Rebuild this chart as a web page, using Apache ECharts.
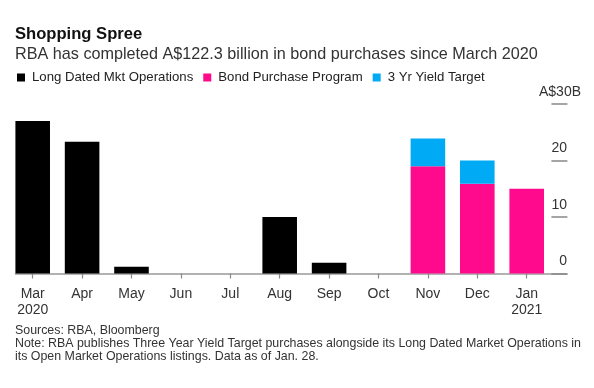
<!DOCTYPE html>
<html>
<head>
<meta charset="utf-8">
<script src="https://cdn.jsdelivr.net/npm/echarts@6/dist/echarts.min.js"></script>
<style>
html,body{margin:0;padding:0;background:#fff;}
#chart{width:594px;height:388px;}
</style>
</head>
<body>
<div id="chart"></div>
<script>
var months = ['Mar\n2020', 'Apr', 'May', 'Jun', 'Jul', 'Aug', 'Sep', 'Oct', 'Nov', 'Dec', 'Jan\n2021'];
var longDated = [27.0, 23.3, 1.2, null, null, 10.0, 1.9, null, null, null, null];
var bondPurchase = [null, null, null, null, null, null, null, null, 19.0, 15.9, 15.0];
var yieldTarget = [null, null, null, null, null, null, null, null, 4.9, 4.1, null];
var yTicks = [0, 10, 20, 30];
var seriesNames = ['Long Dated Mkt Operations', 'Bond Purchase Program', '3 Yr Yield Target'];
var titleText = 'Shopping Spree';
var subtitleText = 'RBA has completed A$122.3 billion in bond purchases since March 2020';
var footerText = 'Sources: RBA, Bloomberg\nNote: RBA publishes Three Year Yield Target purchases alongside its Long Dated Market Operations in\nits Open Market Operations listings. Data as of Jan. 28.';

var FONT = '"Liberation Sans", Arial, sans-serif';
var chart = echarts.init(document.getElementById('chart'), null, {renderer: 'canvas'});
var option = {
  animation: false,
  backgroundColor: '#ffffff',
  textStyle: {fontFamily: FONT},
  title: [
    {text: titleText, left: 15, top: 25, padding: 0,
     textStyle: {fontFamily: FONT, fontSize: 16.6, fontWeight: 'bold', color: '#111', lineHeight: 18}},
    {text: subtitleText, left: 15, top: 45.5, padding: 0,
     textStyle: {fontFamily: FONT, fontSize: 16.2, fontWeight: 'normal', color: '#333', lineHeight: 18}},
    {text: footerText, left: 15, top: 324, padding: 0,
     textStyle: {fontFamily: FONT, fontSize: 12.4, fontWeight: 'normal', color: '#333', lineHeight: 13}}
  ],
  legend: {
    left: 17, top: 71, padding: 0,
    itemWidth: 8, itemHeight: 8, itemGap: 10,
    icon: 'rect',
    textStyle: {fontFamily: FONT, fontSize: 13.2, color: '#222', padding: [0, 0, 0, 2]},
    data: seriesNames
  },
  grid: [
    {left: 8, right: 42.6, top: 104, bottom: 114.5, containLabel: false},
    {left: 15.5, right: 27, top: 104, bottom: 114.5, containLabel: false}
  ],
  xAxis: [
    {
      type: 'category', gridIndex: 0, data: months,
      axisLine: {show: false},
      axisTick: {show: true, alignWithLabel: true, length: 5, lineStyle: {color: '#888', width: 1.2}},
      axisLabel: {fontFamily: FONT, fontSize: 14, color: '#333', margin: 12.5, lineHeight: 16, interval: 0}
    },
    {
      type: 'value', gridIndex: 1, min: 0, max: 1,
      axisLine: {show: true, lineStyle: {color: '#999', width: 1.5}},
      axisTick: {show: false}, axisLabel: {show: false}, splitLine: {show: false}
    }
  ],
  yAxis: [
    {
      type: 'value', gridIndex: 0, position: 'right',
      min: yTicks[0], max: yTicks[yTicks.length - 1], interval: 10,
      axisLine: {show: false},
      axisTick: {show: true, length: 16, inside: false, lineStyle: {color: '#888', width: 1.5}},
      splitLine: {show: false},
      axisLabel: {
        margin: 29.6, align: 'right', verticalAlign: 'bottom', padding: [0, 0, 5, 0],
        formatter: function (v) {
          return v === 30 ? '{a|A$30B}' : '{a|' + v + '}{s| }';
        },
        rich: {
          a: {fontFamily: FONT, fontSize: 14, color: '#333', lineHeight: 14},
          s: {width: 14, fontSize: 14, lineHeight: 14}
        }
      }
    },
    {
      type: 'value', gridIndex: 1, min: 0, max: 30, show: false
    }
  ],
  series: [
    {name: seriesNames[0], type: 'bar', stack: 'total', data: longDated, barWidth: '70%',
     itemStyle: {color: '#000000'}, xAxisIndex: 0, yAxisIndex: 0},
    {name: seriesNames[1], type: 'bar', stack: 'total', data: bondPurchase, barWidth: '70%',
     itemStyle: {color: '#ff0a8c'}, xAxisIndex: 0, yAxisIndex: 0},
    {name: seriesNames[2], type: 'bar', stack: 'total', data: yieldTarget, barWidth: '70%',
     itemStyle: {color: '#00aaf5'}, xAxisIndex: 0, yAxisIndex: 0}
  ]
};
chart.setOption(option);
</script>
</body>
</html>
